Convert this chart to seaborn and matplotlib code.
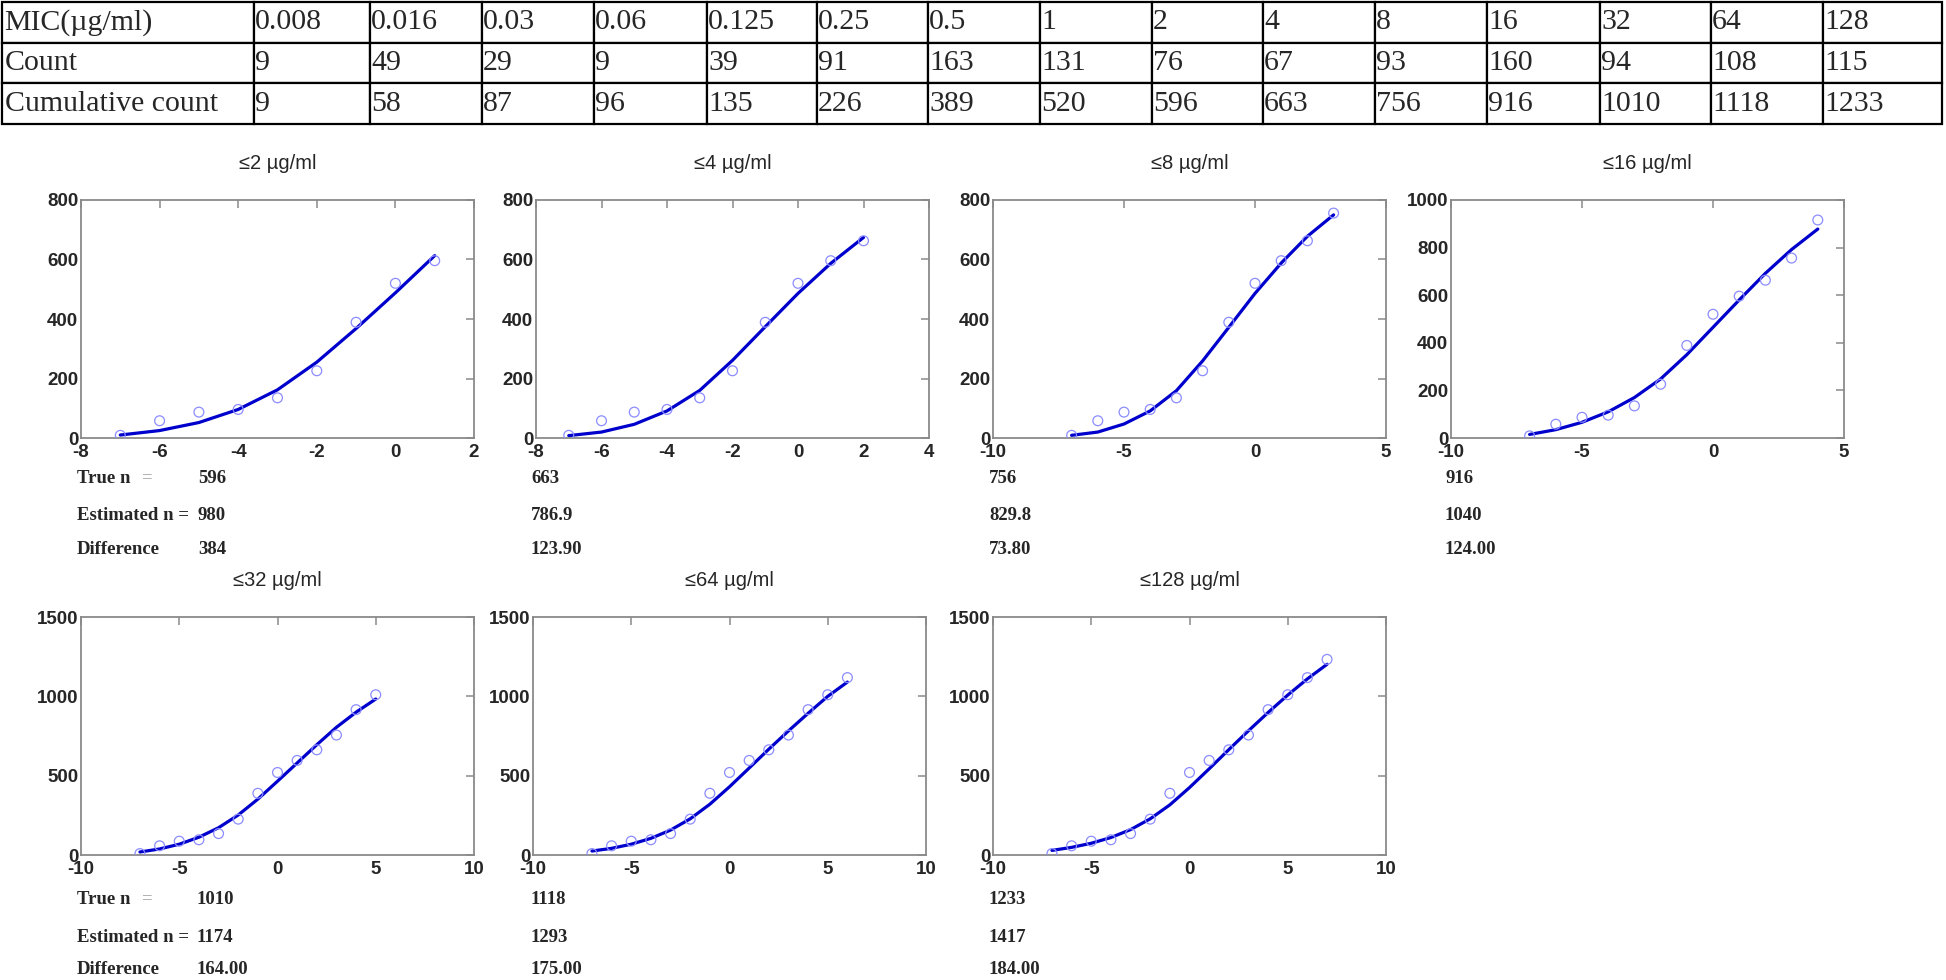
import numpy as np
import pandas as pd
import seaborn as sns
import matplotlib.pyplot as plt

# table data
mic_labels = ["0.008", "0.016", "0.03", "0.06", "0.125", "0.25", "0.5", "1",
              "2", "4", "8", "16", "32", "64", "128"]
counts = [9, 49, 29, 9, 39, 91, 163, 131, 76, 67, 93, 160, 94, 108, 115]
cumulative = [9, 58, 87, 96, 135, 226, 389, 520, 596, 663, 756, 916, 1010, 1118, 1233]
log2_mic = [-7, -6, -5, -4, -3, -2, -1, 0, 1, 2, 3, 4, 5, 6, 7]

# panels
thresholds = ["2", "4", "8", "16", "32", "64", "128"]
true_n = ["596", "663", "756", "916", "1010", "1118", "1233"]
est_n = ["980", "786.9", "829.8", "1040", "1174", "1293", "1417"]
diff_n = ["384", "123.90", "73.80", "124.00", "164.00", "175.00", "184.00"]

# fitted curves read at integer log2(MIC), starting at -7
fit_curves = [
    [10, 25, 52, 96, 162, 255, 368, 488, 613],
    [8, 20, 46, 91, 160, 261, 374, 486, 587, 674],
    [9, 20, 47, 91, 159, 259, 372, 486, 588, 678, 750],
    [15, 35, 66, 110, 170, 248, 350, 465, 580, 692, 792, 878],
    [19, 38, 68, 112, 172, 252, 352, 465, 580, 695, 805, 900, 983],
    [25, 42, 68, 105, 157, 228, 320, 430, 548, 667, 782, 893, 1000, 1090],
    [29, 48, 74, 110, 160, 228, 316, 425, 543, 664, 783, 898, 1008, 1110, 1202],
]

sns.set_theme(style="white")
plt.rcParams["font.family"] = ["Liberation Sans", "DejaVu Sans"]
plt.rcParams["axes.unicode_minus"] = False

W, H = 1946, 980
fig = plt.figure(figsize=(W / 100, H / 100), dpi=100)


def fx(px):
    return px / W


def fy(py):
    return 1 - py / H


# ---- table ----
col_edges = [2, 254, 370, 482, 594, 707, 817, 928, 1040, 1152, 1263, 1375,
             1487, 1600, 1711, 1823, 1942]
tax = fig.add_axes([fx(2), fy(124), fx(1940), 122 / H])
tax.axis("off")
cell_text = [["MIC(\u00b5g/ml)"] + mic_labels,
             ["Count"] + [str(c) for c in counts],
             ["Cumulative count"] + [str(c) for c in cumulative]]
widths = np.diff(col_edges) / (col_edges[-1] - col_edges[0])
tbl = tax.table(cellText=cell_text, cellLoc="left", colWidths=list(widths),
                bbox=[0, 0, 1, 1])
tbl.auto_set_font_size(False)
for (r, c), cell in tbl.get_celld().items():
    cell.PAD = 0.01
    cell.set_linewidth(1.6)
    cell.set_edgecolor("black")
    cell.get_text().set_fontfamily("Liberation Serif")
    cell.get_text().set_fontsize(21.5)

# ---- panels ----
lefts_row1 = [81, 536, 993, 1451]
lefts_row2 = [81, 533, 993]
ax_w = 393
ax_h = 238
row_tops = [200, 617]
value_x = [[198, 531, 989, 1445], [196, 531, 989]]
text_y = [[478, 516, 550], [899, 937, 969]]

xlims = [(-8, 2), (-8, 4), (-10, 5), (-10, 5), (-10, 10), (-10, 10), (-10, 10)]
xsteps = [2, 2, 5, 5, 5, 5, 5]
ylims = [800, 800, 800, 1000, 1500, 1500, 1500]
ysteps = [200, 200, 200, 200, 500, 500, 500]

serif_bold = dict(fontfamily="Liberation Serif", fontweight="bold", fontsize=13.5)

for i, thr in enumerate(thresholds):
    row = 0 if i < 4 else 1
    col = i if i < 4 else i - 4
    left = (lefts_row1 if row == 0 else lefts_row2)[col]
    top = row_tops[row]
    ax = fig.add_axes([fx(left), fy(top + ax_h), fx(ax_w), ax_h / H])

    n_pts = len(fit_curves[i])
    df = pd.DataFrame({"x": log2_mic[:n_pts], "y": cumulative[:n_pts],
                       "fit": fit_curves[i]})
    sns.scatterplot(data=df, x="x", y="y", ax=ax, marker="o", s=50,
                    facecolor="none", edgecolor="#8c8cff", linewidth=0.9,
                    zorder=3)
    sns.lineplot(data=df, x="x", y="fit", ax=ax, color="#0000cc",
                 linewidth=2.3, zorder=2)

    ax.set_xlim(*xlims[i])
    ax.set_ylim(0, ylims[i])
    ax.set_xticks(np.arange(xlims[i][0], xlims[i][1] + 0.1, xsteps[i]))
    ax.set_yticks(np.arange(0, ylims[i] + 1, ysteps[i]))
    ax.set_xlabel("")
    ax.set_ylabel("")
    ax.set_title("\u2264" + thr + " \u00b5g/ml", fontsize=14.5, pad=22)
    for s in ax.spines.values():
        s.set_color("#8a8a8a")
        s.set_linewidth(1.3)
    ax.tick_params(axis="both", direction="in", length=6, width=1.1,
                   color="#8a8a8a", top=True, right=True, bottom=False,
                   left=False, labelsize=13.5, pad=2)
    ax.tick_params(axis="x", pad=4)
    for lab in ax.get_xticklabels() + ax.get_yticklabels():
        lab.set_fontweight("bold")

    vx = value_x[row][col]
    ys = text_y[row]
    if col == 0:
        fig.text(fx(77), fy(ys[0]), "True n", va="center", **serif_bold)
        fig.text(fx(141), fy(ys[0]), "=", va="center", color="#9a9a9a",
                 fontfamily="Liberation Serif", fontsize=13.5)
        fig.text(fx(77), fy(ys[1]), "Estimated n =", va="center", **serif_bold)
        fig.text(fx(77), fy(ys[2]), "Difference", va="center", **serif_bold)
    fig.text(fx(vx), fy(ys[0]), true_n[i], va="center", **serif_bold)
    fig.text(fx(vx), fy(ys[1]), est_n[i], va="center", **serif_bold)
    fig.text(fx(vx), fy(ys[2]), diff_n[i], va="center", **serif_bold)

fig.savefig("out.png", dpi=100, facecolor="white")
